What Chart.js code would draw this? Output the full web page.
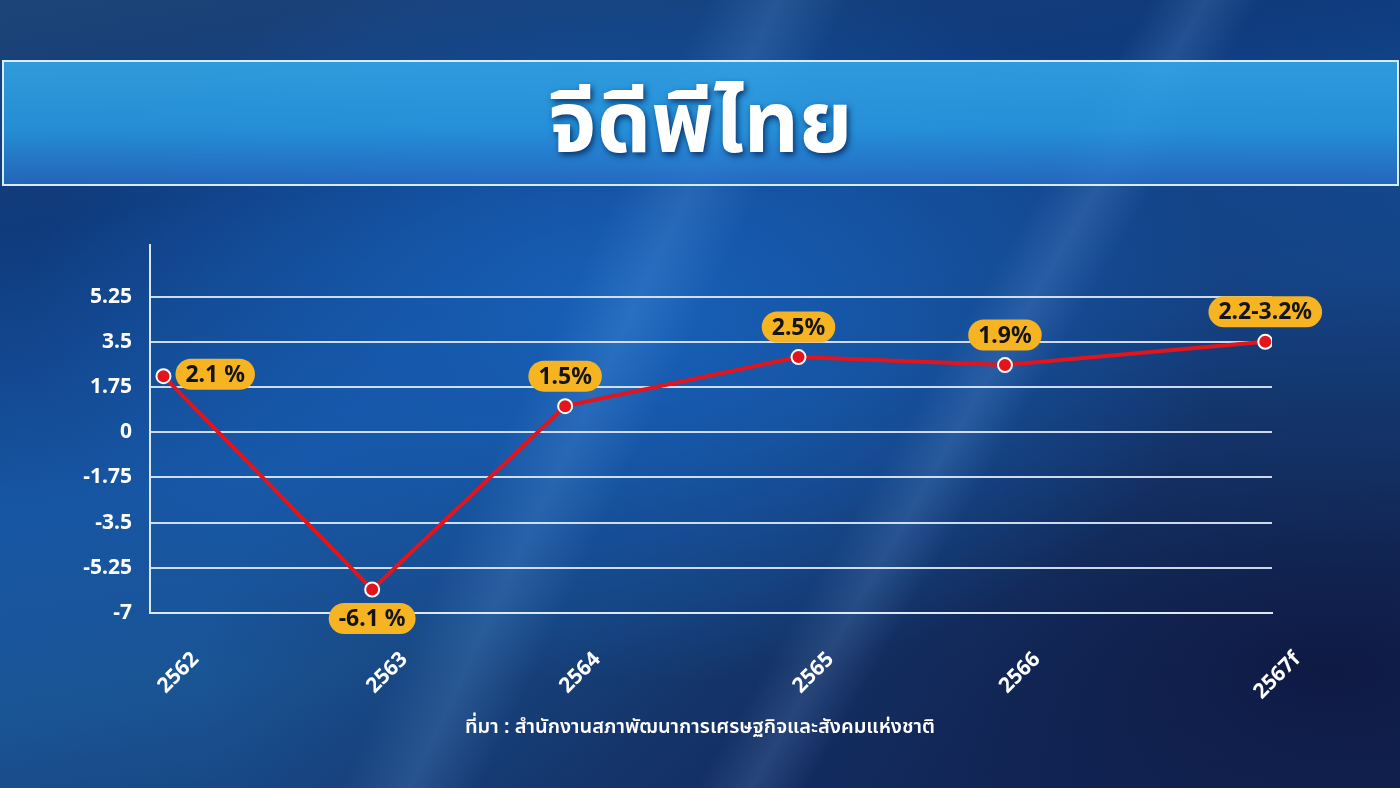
<!DOCTYPE html>
<html>
<head>
<meta charset="utf-8">
<script src="https://cdn.jsdelivr.net/npm/chart.js@4.4.1/dist/chart.umd.min.js"></script>
<style>
  html, body { margin: 0; padding: 0; }
  body {
    width: 1400px; height: 788px; overflow: hidden; position: relative;
    font-family: "Noto Sans", "Noto Sans Thai", sans-serif;
    background:
      linear-gradient(115deg, rgba(255,255,255,0) 40%, rgba(120,180,240,0.18) 44%, rgba(255,255,255,0) 48%),
      linear-gradient(120deg, rgba(255,255,255,0) 62%, rgba(140,190,250,0.16) 65%, rgba(255,255,255,0) 68%),
      radial-gradient(ellipse at 45% 40%, #1760b8 0%, rgba(23,96,184,0) 55%),
      radial-gradient(ellipse at 95% 85%, #0f1a44 0%, rgba(15,26,68,0) 60%),
      linear-gradient(170deg, #1d4477 0%, #0f3a7c 22%, #1756a4 50%, #1a5494 70%, #14306a 100%);
  }
  .banner {
    position: absolute; left: 2px; top: 60px; width: 1393px; height: 122px;
    border: 2px solid #d6ecfa;
    background: linear-gradient(180deg, rgba(52,170,235,0.85) 0%, rgba(40,155,228,0.85) 55%, rgba(40,110,200,0.8) 100%);
    box-sizing: content-box;
  }
  .banner h1 {
    margin: 0; text-align: center; color: #fff; font-size: 86px; font-weight: 700;
    line-height: 114px; text-shadow: 2px 3px 6px rgba(0,30,80,0.8);
  }
  .source {
    position: absolute; left: 0; width: 1400px; top: 712px; text-align: center;
    color: #fff; font-size: 20px; font-weight: 600;
  }
  #c { position: absolute; left: 0; top: 0; }
</style>
</head>
<body>
<div class="banner"><h1>จีดีพีไทย</h1></div>
<canvas id="c" width="1400" height="788"></canvas>
<div class="source">ที่มา : สำนักงานสภาพัฒนาการเศรษฐกิจและสังคมแห่งชาติ</div>
<script>
// ข้อมูลกราฟ
const years = ['2562', '2563', '2564', '2565', '2566', '2567f'];
const xPositions = [0.06, 0.99, 1.85, 2.89, 3.81, 4.97];   // ตำแหน่งบนแกน x (ไม่เท่ากันตามภาพ)
const gdpValues = [2.17, -6.09, 1.01, 2.91, 2.6, 3.5];
const gdpLabels = ['2.1 %', '-6.1 %', '1.5%', '2.5%', '1.9%', '2.2-3.2%'];
const labelSide = ['right', 'below', 'above', 'above', 'above', 'above'];
const yTicks = [-7, -5.25, -3.5, -1.75, 0, 1.75, 3.5, 5.25];

const FONT = '"Noto Sans", "Noto Sans Thai", sans-serif';

// ป้ายตัวเลขสีเหลือง
const pillPlugin = {
  id: 'pills',
  afterDatasetsDraw(chart) {
    const ctx = chart.ctx;
    const meta = chart.getDatasetMeta(0);
    ctx.save();
    ctx.font = 'bold 23px ' + FONT;
    ctx.textBaseline = 'middle';
    ctx.textAlign = 'center';
    meta.data.forEach((pt, i) => {
      const text = gdpLabels[i];
      const w = ctx.measureText(text).width + 20;
      const h = 31;
      let cx = pt.x, cy = pt.y;
      if (labelSide[i] === 'right') { cx = pt.x + 12 + w / 2; cy = pt.y - 2; }
      else if (labelSide[i] === 'below') { cy = pt.y + 29; }
      else { cy = pt.y - 30; }
      ctx.fillStyle = '#f6b322';
      ctx.beginPath();
      ctx.roundRect(cx - w / 2, cy - h / 2, w, h, h / 2);
      ctx.fill();
      ctx.fillStyle = '#141414';
      ctx.fillText(text, cx, cy + 1);
    });
    ctx.restore();
  }
};

const ctx = document.getElementById('c').getContext('2d');
new Chart(ctx, {
  type: 'line',
  data: {
    datasets: [{
      data: xPositions.map((x, i) => ({ x: x, y: gdpValues[i] })),
      borderColor: '#e3141b',
      borderWidth: 4,
      pointBackgroundColor: '#e3141b',
      pointBorderColor: '#ffffff',
      pointBorderWidth: 2,
      pointRadius: 7,
      tension: 0
    }]
  },
  options: {
    responsive: false,
    animation: false,
    layout: { padding: { top: 245, right: 128, left: 0, bottom: 0 } },
    plugins: { legend: { display: false }, tooltip: { enabled: false } },
    scales: {
      x: {
        type: 'linear',
        min: 0,
        max: 5,
        afterBuildTicks(scale) { scale.ticks = xPositions.map(v => ({ value: v })); },
        afterFit(scale) { scale.height = 175; },
        grid: { display: false, drawTicks: false },
        border: { display: true, color: '#dbe8f7', width: 2 },
        ticks: {
          color: '#ffffff',
          font: { family: FONT, size: 21, weight: 'bold' },
          minRotation: 45,
          maxRotation: 45,
          padding: 34,
          labelOffset: 32,
          callback: (v, i) => years[i]
        }
      },
      y: {
        min: -7,
        max: 7.25,
        afterBuildTicks(scale) { scale.ticks = yTicks.map(v => ({ value: v })); },
        afterFit(scale) { scale.width = 150; },
        grid: { color: 'rgba(225,236,250,0.9)', lineWidth: 2, drawTicks: false },
        border: { display: true, color: '#dbe8f7', width: 2 },
        ticks: {
          color: '#ffffff',
          font: { family: FONT, size: 21, weight: 'bold' },
          padding: 18,
          callback: v => String(v)
        }
      }
    }
  },
  plugins: [pillPlugin]
});
</script>
</body>
</html>
